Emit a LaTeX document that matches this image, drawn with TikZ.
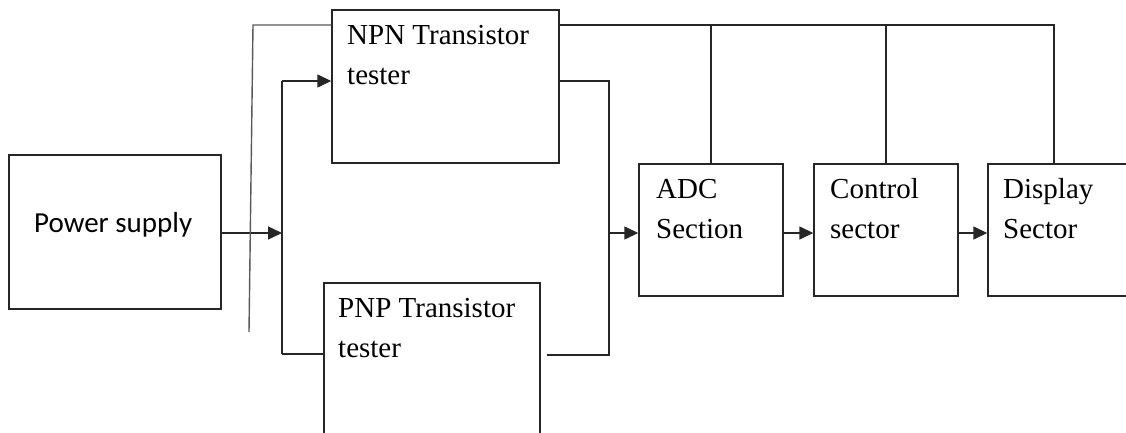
\documentclass[tikz,border=0pt]{standalone}
\usepackage{fontspec}
\setmainfont{Liberation Serif}
\newfontfamily\calfont{Carlito}
\usetikzlibrary{arrows.meta}
\tikzset{
  blk/.style={draw=black!85, line width=1.4pt, rectangle, inner sep=0pt},
  wire/.style={draw=black!85, line width=1.4pt},
  arr/.style={wire, -{Triangle[length=14pt,width=13pt]}},
  lbl/.style={inner sep=0pt, align=left, font=\fontsize{29}{40}\selectfont},
}
\begin{document}
\begin{tikzpicture}[x=1pt,y=-1pt]
\useasboundingbox (0,0) rectangle (1126,433);
\clip (0,0) rectangle (1126,433);
\fill[white] (0,0) rectangle (1126,433);

% blocks
\node[blk, minimum width=212pt, minimum height=154pt] (ps)  at (115,232)   {};
\node[blk, minimum width=227pt, minimum height=153pt] (npn) at (445.5,86.5) {};
\node[blk, minimum width=216pt, minimum height=160pt] (pnp) at (432,363)   {};
\node[blk, minimum width=144pt, minimum height=132pt] (adc) at (711,230)   {};
\node[blk, minimum width=144pt, minimum height=132pt] (ctl) at (886,230)   {};
\node[blk, minimum width=144pt, minimum height=132pt] (dsp) at (1060,230)  {};

% labels (anchored on the baseline of the last line)
\node[lbl, anchor=base west, font=\calfont\fontsize{29}{40}\selectfont] (tps) at (34,232) {Power supply};
\node[lbl, anchor=base west] (tnpn) at (347,85)  {NPN Transistor\\tester};
\node[lbl, anchor=base west] (tpnp) at (338,357) {PNP Transistor\\tester};
\node[lbl, anchor=base west] (tadc) at (656,238) {ADC\\Section};
\node[lbl, anchor=base west] (tctl) at (830,238) {Control\\sector};
\node[lbl, anchor=base west] (tdsp) at (1003,238) {Display\\Sector};

% junction points
\coordinate (bt) at (282,81);
\coordinate (bm) at (282,233);
\coordinate (bb) at (282,354);
\coordinate (ot) at (609,81);
\coordinate (om) at (609,233);
\coordinate (ob) at (609,355);
\coordinate (pout) at (547,355);
\coordinate (lt) at (253,25);
\coordinate (lb) at (249,332);
\coordinate (rt) at (1054,25);

% supply into the tester bus
\draw[arr] (ps.east |- bm) -- (bm);
\draw[wire] (bb) -- (bt);
\draw[arr] (bt) -- (bt -| npn.west);
\draw[wire] (bb) -- (bb -| pnp.west);

% tester outputs into the ADC
\draw[wire] (bt -| npn.east) -- (ot) -- (ob) -- (pout);
\draw[arr] (om) -- (om -| adc.west);

% processing chain
\draw[arr] (adc.east |- om) -- (ctl.west |- om);
\draw[arr] (ctl.east |- om) -- (dsp.west |- om);

% common rail
\draw[wire, draw=black!65] (npn.west |- lt) -- (lt) -- (lb);
\draw[wire] (npn.east |- rt) -- (rt) -- (rt |- dsp.north);
\draw[wire] (adc.north |- rt) -- (adc.north);
\draw[wire] (ctl.north |- rt) -- (ctl.north);
\end{tikzpicture}
\end{document}
